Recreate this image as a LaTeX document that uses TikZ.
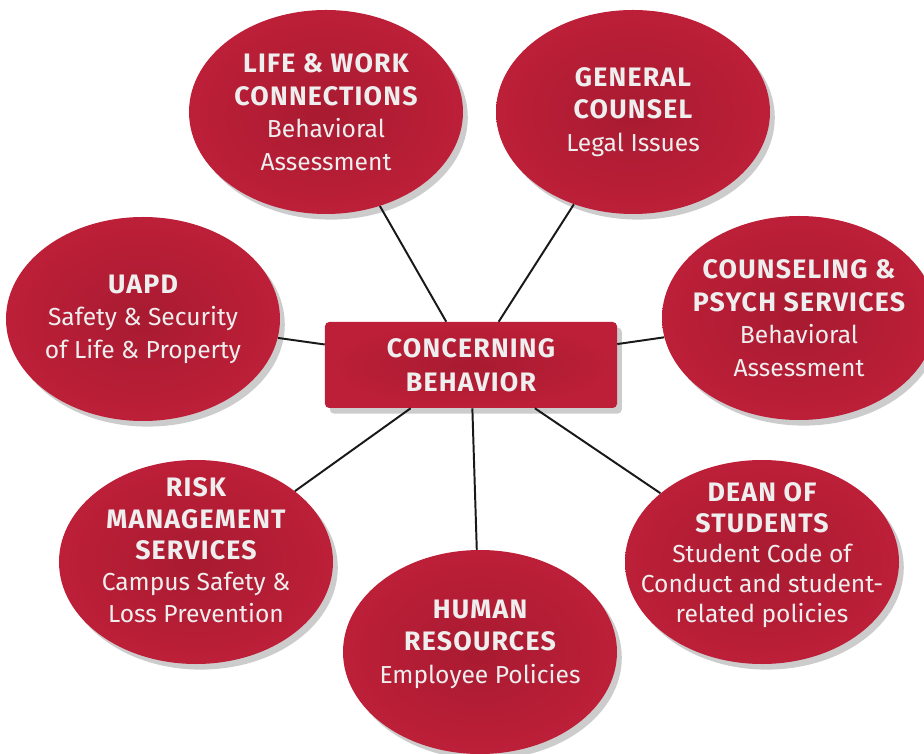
\documentclass[tikz,border=0pt]{standalone}
\usepackage{xcolor}
\usepackage{fontspec}
\setmainfont{Fira Sans}
\usepackage{tikz}
\usetikzlibrary{positioning}
\usetikzlibrary{shapes,shadows}
\definecolor{crimson}{HTML}{BD1F38}
\definecolor{crimsondark}{HTML}{A81B31}
\definecolor{softwhite}{HTML}{EEEEEE}
\newcommand{\hd}[1]{{\fontsize{19}{23}\selectfont\bfseries\addfontfeature{LetterSpace=4.5}#1}}
\tikzstyle{bubble} = [ellipse, minimum width=6.85cm, minimum height=5.1cm, inner sep=-2cm,
inner color=crimsondark, outer color=crimson, text=softwhite, align=center,
font=\fontsize{17.5}{23.2}\selectfont,
drop shadow={shadow xshift=.12cm, shadow yshift=-.14cm, opacity=.2, fill=black}]
\tikzstyle{block} = [rectangle, rounded corners=3pt, minimum width=7.3cm, minimum height=2.15cm,
inner color=crimsondark, outer color=crimson, text=softwhite, align=center,
font=\fontsize{17.5}{24}\selectfont,
drop shadow={shadow xshift=.12cm, shadow yshift=-.14cm, opacity=.2, fill=black}]
\tikzstyle{line} = [draw, line width=1.4pt, black!90]

\begin{document}
\begin{tikzpicture}[node distance = 1cm, on grid]
  \useasboundingbox (-11.775,-9.7) rectangle (11.325,9.125);
    % Place nodes
    \node [block] (cb) at (0,0) {\hd{CONCERNING}\\\hd{BEHAVIOR}};
    \node [bubble, above left=6.325cm and 3.625cm of cb] (lwc) {\hd{LIFE \& WORK}\\\hd{CONNECTIONS}\\Behavioral\\Assessment};
    \node [bubble, above right=6.325cm and 4.05cm of cb] (gc) {\hd{GENERAL}\\\hd{COUNSEL}\\Legal Issues};
    \node [bubble, above left=1.15cm and 8.2cm of cb] (uapd) {\hd{UAPD}\\Safety \& Security\\of Life \& Property};
    \node [bubble, above right=1.175cm and 8.2cm of cb] (caps) {\hd{COUNSELING \&}\\\hd{PSYCH SERVICES}\\Behavioral\\Assessment};
    \node [bubble, below left=4.925cm and 6.875cm of cb, font=\fontsize{17.5}{22.3}\selectfont, text depth=17pt] (rms) {\hd{RISK}\\\hd{MANAGEMENT}\\\hd{SERVICES}\\Campus Safety \&\\Loss Prevention};
    \node [bubble, below right=4.925cm and 7.275cm of cb, font=\fontsize{17.5}{21.5}\selectfont, text depth=13pt] (dos) {\hd{DEAN OF}\\\hd{STUDENTS}\\Student Code of\\Conduct and student-\\related policies};
    \node [bubble, below right=7.175cm and 0.225cm of cb, text depth=15pt] (hr) {\hd{HUMAN}\\\hd{RESOURCES}\\Employee Policies};
    % edges
    \path [line] (cb) -- (lwc);
    \path [line] (cb) -- (gc);
    \path [line] (cb) -- (uapd);
    \path [line] (cb) -- (caps);
    \path [line] (cb) -- (rms);
    \path [line] (cb) -- (dos);
    \path [line] (cb) -- (hr);
\end{tikzpicture}
\end{document}
